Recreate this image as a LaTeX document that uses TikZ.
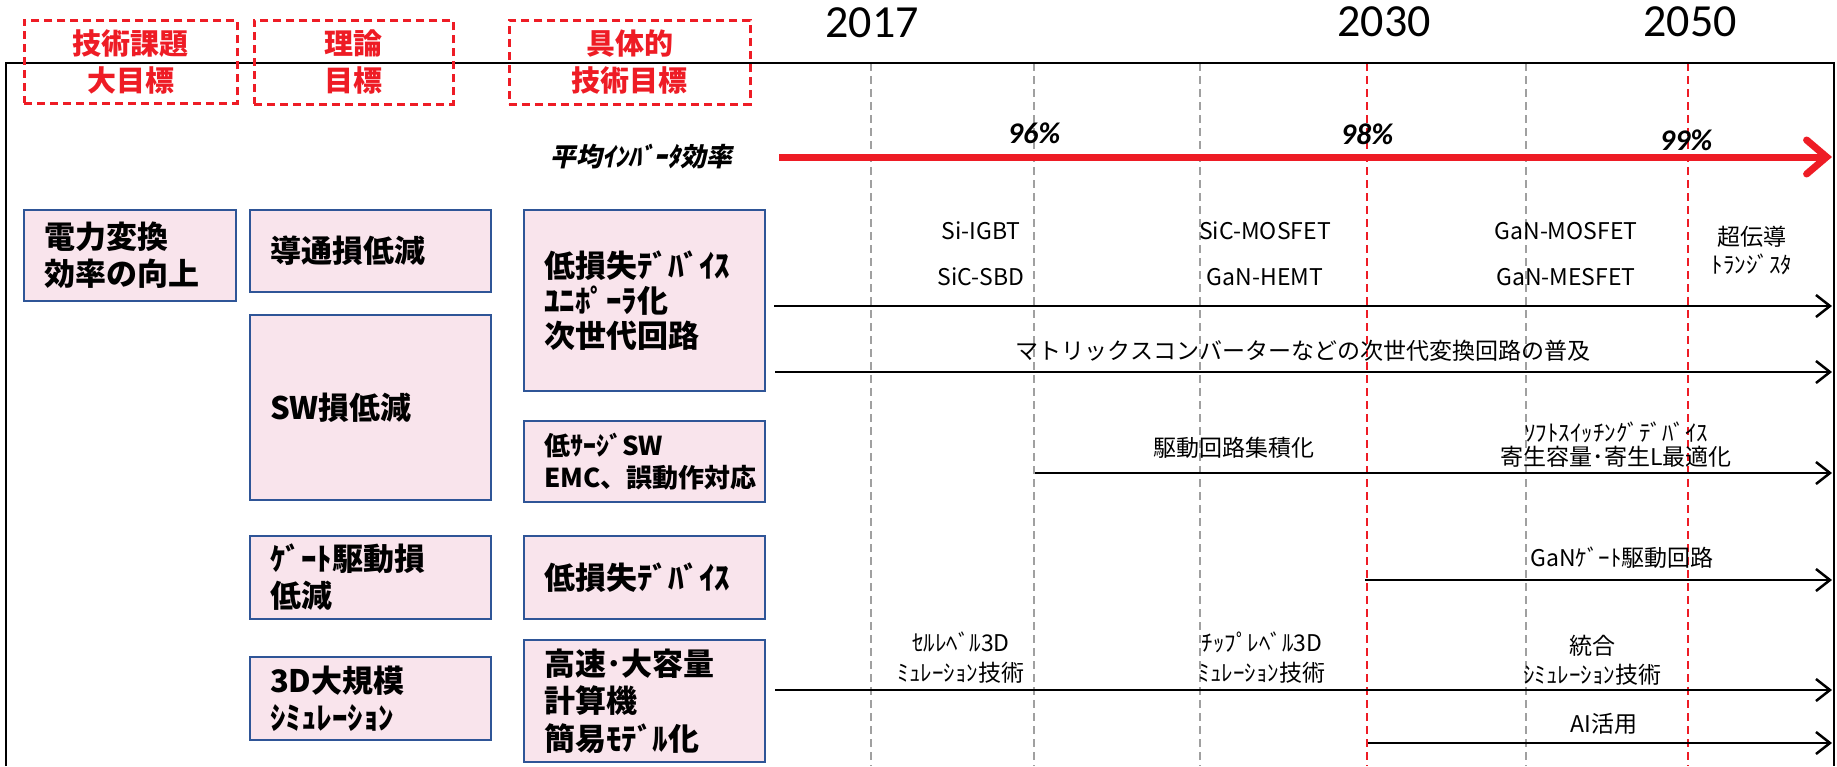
\documentclass[tikz,border=0pt]{standalone}
\usepackage{fontspec}
\setmainfont{Noto Sans CJK JP}
\newfontfamily\latinfont{Carlito}
\newfontfamily\jpslant{Noto Sans CJK JP}[FakeSlant=0.2]
\usepackage{tikz}
\usetikzlibrary{arrows.meta}
\definecolor{boxblue}{HTML}{2F5597}
\definecolor{boxpink}{HTML}{F9E4EC}
\definecolor{headred}{HTML}{EE1C25}
\definecolor{gridgray}{HTML}{A0A0A0}
\newcommand{\setpx}[2]{\fontsize{#1}{#2}\selectfont}

\tikzset{
  goal/.style={draw=boxblue, fill=boxpink, line width=2pt, anchor=north west,
    inner xsep=20pt, inner ysep=0pt, align=left, font=\bfseries\setpx{31}{37}},
  head/.style={draw=headred, dash pattern=on 8pt off 5pt, line width=2.5pt,
    anchor=north west, align=center, text=headred, inner sep=0pt,
    font=\bfseries\setpx{29}{37}},
  lbl/.style={font=\setpx{23}{29}, align=center, inner sep=0pt},
  year/.style={font=\latinfont\setpx{46}{50}, inner sep=0pt},
  pct/.style={font=\latinfont\bfseries\itshape\setpx{30}{34}, inner sep=0pt},
  gridline/.style={draw=gridgray, line width=1.5pt, dash pattern=on 8pt off 5pt},
  plan/.style={line width=2.5pt, -{Straight Barb[length=14pt,width=22pt]}},
  effarrow/.style={line width=7pt, draw=headred,
    -{Straight Barb[length=20pt,width=34pt,line cap=round]}}
}

\begin{document}
\begin{tikzpicture}[x=1pt,y=-1pt]
      \useasboundingbox (0,0) rectangle (1837,766);

      \foreach \x in {871,1034,1200,1526}
        \draw[gridline] (\x,63) -- (\x,766);
      \foreach \x in {1367,1688}
        \draw[gridline, draw=headred] (\x,63) -- (\x,766);
      \draw[line width=2pt] (6,766) -- (6,63) -- (1834,63) -- (1834,766);

      \node[head, minimum width=213pt, minimum height=83pt] (hgoal) at (23,19) {技術課題\\大目標};
      \node[head, minimum width=199pt, minimum height=84pt] (htheory) at (253,19) {理論\\目標};
      \node[head, minimum width=241pt, minimum height=84pt] (htech) at (508,19) {具体的\\技術目標};

      \node[year] (y17) at (872,23) {2017};
      \node[year] (y30) at (1384,22) {2030};
      \node[year] (y50) at (1690,22) {2050};

      \node[goal, minimum width=212pt, minimum height=91pt, text width=172pt] (power) at (23,209) {電力変換\\効率の向上};
      \node[goal, minimum width=241pt, minimum height=82pt, text width=201pt] (cond) at (249,209) {導通損低減};
      \node[goal, minimum width=241pt, minimum height=185pt, text width=201pt] (sw) at (249,314) {SW損低減};
      \node[goal, minimum width=241pt, minimum height=83pt, text width=201pt] (gate) at (249,535) {ｹﾞｰﾄ駆動損\\低減};
      \node[goal, minimum width=241pt, minimum height=83pt, text width=201pt] (sim) at (249,656) {3D大規模\\ｼﾐｭﾚｰｼｮﾝ};

      \node[goal, minimum width=241pt, minimum height=181pt, text width=201pt, font=\bfseries\setpx{31}{35}] (dev) at (523,209) {低損失ﾃﾞﾊﾞｲｽ\\ﾕﾆﾎﾟｰﾗ化\\次世代回路};
      \node[goal, minimum width=241pt, minimum height=81pt, text width=201pt, font=\bfseries\setpx{26}{32}] (surge) at (523,420) {低ｻｰｼﾞSW\\EMC、誤動作対応};
      \node[goal, minimum width=241pt, minimum height=83pt, text width=201pt] (devb) at (523,535) {低損失ﾃﾞﾊﾞｲｽ};
      \node[goal, minimum width=241pt, minimum height=122pt, text width=201pt, font=\bfseries\setpx{31}{37.5}] (calc) at (523,639) {高速･大容量\\計算機\\簡易ﾓﾃﾞﾙ化};

      \node[font=\jpslant\bfseries\setpx{26}{30}] (eff) at (641,157) {平均ｲﾝﾊﾞｰﾀ効率};
      \node[pct] (p96) at (1034,133) {96\%};
      \node[pct] (p98) at (1367,134) {98\%};
      \node[pct] (p99) at (1686,140) {99\%};

      \node[lbl, font=\setpx{23}{46}] (si) at (981,254) {Si-IGBT\\SiC-SBD};
      \node[lbl, font=\setpx{23}{46}] (sic) at (1265,254) {SiC-MOSFET\\GaN-HEMT};
      \node[lbl, font=\setpx{23}{46}] (gan) at (1566,254) {GaN-MOSFET\\GaN-MESFET};
      \node[lbl, font=\setpx{23}{28}] (sc) at (1752,251) {超伝導\\ﾄﾗﾝｼﾞｽﾀ};
      \node[lbl] (matrix) at (1303,351) {マトリックスコンバーターなどの次世代変換回路の普及};
      \node[lbl] (integ) at (1234,448) {駆動回路集積化};
      \node[lbl, font=\setpx{23}{24}] (soft) at (1616,445) {ｿﾌﾄｽｲｯﾁﾝｸﾞﾃﾞﾊﾞｲｽ\\寄生容量･寄生L最適化};
      \node[lbl] (gandrv) at (1622,558) {GaNｹﾞｰﾄ駆動回路};
      \node[lbl, font=\setpx{23}{30}] (cell) at (961,658) {ｾﾙﾚﾍﾞﾙ3D\\ﾐｭﾚｰｼｮﾝ技術};
      \node[lbl, font=\setpx{23}{30}] (chip) at (1262,658) {ﾁｯﾌﾟﾚﾍﾞﾙ3D\\ﾐｭﾚｰｼｮﾝ技術};
      \node[lbl, font=\setpx{23}{29}] (unify) at (1592,660) {統合\\ｼﾐｭﾚｰｼｮﾝ技術};
      \node[lbl] (ai) at (1604,724) {AI活用};

      \coordinate (effs) at (779,157);
      \coordinate (effe) at (1832,157);
      \coordinate (a1s) at (774,306);
      \coordinate (a1e) at (1832,306);
      \coordinate (a2s) at (775,372);
      \coordinate (a2e) at (1832,372);
      \coordinate (a3s) at (1035,473);
      \coordinate (a3e) at (1832,473);
      \coordinate (a4s) at (1365,580);
      \coordinate (a4e) at (1832,580);
      \coordinate (a5s) at (775,690);
      \coordinate (a5e) at (1832,690);
      \coordinate (a6s) at (1368,743);
      \coordinate (a6e) at (1832,743);

      \draw[effarrow] (effs) -- (effe);
      \draw[plan] (a1s) -- (a1e);
      \draw[plan] (a2s) -- (a2e);
      \draw[plan] (a3s) -- (a3e);
      \draw[plan] (a4s) -- (a4e);
      \draw[plan] (a5s) -- (a5e);
      \draw[plan] (a6s) -- (a6e);
\end{tikzpicture}
\end{document}
